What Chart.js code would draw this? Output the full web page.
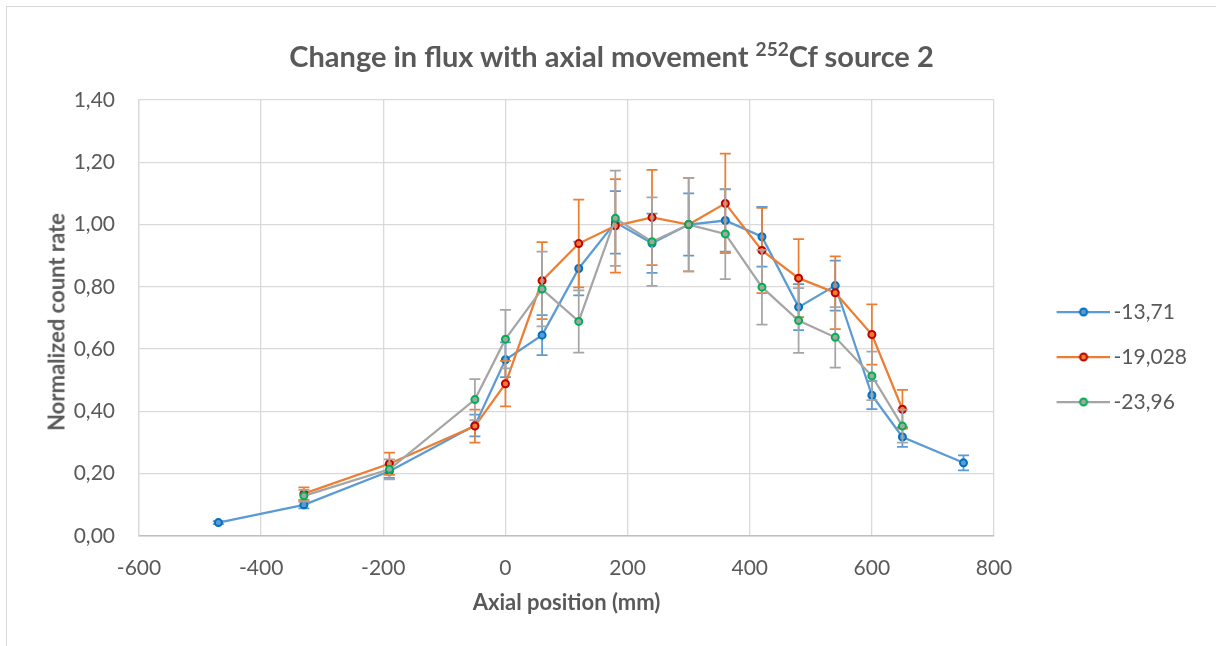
<!DOCTYPE html>
<html>
<head>
<meta charset="utf-8">
<title>Change in flux with axial movement</title>
<script src="https://cdn.jsdelivr.net/npm/chart.js@4.4.1/dist/chart.umd.min.js"></script>
<style>
  html, body { margin: 0; padding: 0; background: #fff; }
  body { width: 1216px; height: 646px; overflow: hidden; position: relative; font-family: Lato, "Open Sans", sans-serif; }
  #frame { position: absolute; left: 6px; top: 6px; width: 1300px; height: 700px; border-left: 1px solid #d9d9d9; border-top: 1px solid #d9d9d9; }
  #title { position: absolute; left: 0; width: 1223px; top: 38px; text-align: center; font: bold 29px Lato, sans-serif; color: #595959; white-space: nowrap; }
  #title sup { font-size: 0.66em; vertical-align: 0.55em; line-height: 0; }
  #ytitle { position: absolute; left: 56px; top: 322px; transform: translate(-50%, -50%) rotate(-90deg); font: bold 22px Lato, sans-serif; color: #595959; white-space: nowrap; }
  #chart { position: absolute; left: 0; top: 0; }
</style>
</head>
<body>
<div id="frame"></div>
<canvas id="chart" width="1216" height="646"></canvas>
<div id="title">Change in flux with axial movement <sup>252</sup>Cf source 2</div>
<div id="ytitle">Normalized count rate</div>
<script>
// positions (mm)
const positionsA = [-470, -330, -190, -50, 0, 60, 120, 180, 240, 300, 360, 420, 480, 540, 600, 650, 750];
const positionsB = [-330, -190, -50, 0, 60, 120, 180, 240, 300, 360, 420, 480, 540, 600, 650];

// series -13,71
const rateA = [0.043, 0.100, 0.208, 0.355, 0.566, 0.645, 0.859, 1.007, 0.940, 1.000, 1.013, 0.961, 0.735, 0.804, 0.452, 0.318, 0.235];
const errA = [0.005, 0.011, 0.021, 0.035, 0.056, 0.064, 0.086, 0.100, 0.095, 0.100, 0.100, 0.096, 0.074, 0.080, 0.045, 0.032, 0.024];
// series -19,028
const rateB = [0.136, 0.232, 0.353, 0.489, 0.820, 0.939, 0.996, 1.023, 1.000, 1.068, 0.917, 0.828, 0.781, 0.647, 0.407];
const errB = [0.020, 0.036, 0.053, 0.073, 0.124, 0.141, 0.150, 0.153, 0.150, 0.160, 0.137, 0.125, 0.117, 0.097, 0.062];
// series -23,96
const rateC = [0.129, 0.214, 0.438, 0.632, 0.793, 0.689, 1.020, 0.945, 1.000, 0.970, 0.799, 0.692, 0.638, 0.514, 0.353];
const errC = [0.019, 0.032, 0.066, 0.094, 0.120, 0.100, 0.153, 0.142, 0.150, 0.145, 0.120, 0.104, 0.097, 0.078, 0.053];

const seriesNames = ["-13,71", "-19,028", "-23,96"];

const xTicks = [-600, -400, -200, 0, 200, 400, 600, 800];
const xTickLabels = ["-600", "-400", "-200", "0", "200", "400", "600", "800"];
const yTicks = [0, 0.2, 0.4, 0.6, 0.8, 1.0, 1.2, 1.4];
const yTickLabels = ["0,00", "0,20", "0,40", "0,60", "0,80", "1,00", "1,20", "1,40"];

const textColor = "#595959";
const gridColor = "#d9d9d9";

function points(xs, ys) {
  return xs.map((x, i) => ({ x: x, y: ys[i] }));
}

// legend icon: line with marker in the middle
function legendIcon(line, fill, ring) {
  const c = document.createElement("canvas");
  c.width = 98;
  c.height = 12;
  const g = c.getContext("2d");
  g.strokeStyle = line;
  g.lineWidth = 2.25;
  g.beginPath();
  g.moveTo(45, 6);
  g.lineTo(98, 6);
  g.stroke();
  g.beginPath();
  g.arc(72, 6, 3.5, 0, Math.PI * 2);
  g.fillStyle = fill;
  g.fill();
  g.lineWidth = 2;
  g.strokeStyle = ring;
  g.stroke();
  return c;
}

function series(label, xs, ys, errs, line, ring, order) {
  return {
    label: label,
    data: points(xs, ys),
    errors: errs,
    borderColor: line,
    backgroundColor: line,
    borderWidth: 2.25,
    pointRadius: 3.5,
    pointBorderWidth: 2,
    pointBackgroundColor: line,
    pointBorderColor: ring,
    tension: 0,
    order: order,
    icon: legendIcon(line, line, ring)
  };
}

// error bars drawn under each series
const errorBars = {
  id: "errorBars",
  beforeDatasetDraw(chart, args) {
    const ds = chart.data.datasets[args.index];
    const yScale = chart.scales.y;
    const ctx = chart.ctx;
    ctx.save();
    ctx.strokeStyle = ds.borderColor;
    ctx.lineWidth = 1.75;
    args.meta.data.forEach((pt, i) => {
      const v = ds.data[i].y;
      const e = ds.errors[i];
      const top = yScale.getPixelForValue(v + e);
      const bot = yScale.getPixelForValue(v - e);
      ctx.beginPath();
      ctx.moveTo(pt.x, top);
      ctx.lineTo(pt.x, bot);
      ctx.moveTo(pt.x - 5.5, top);
      ctx.lineTo(pt.x + 5.5, top);
      ctx.moveTo(pt.x - 5.5, bot);
      ctx.lineTo(pt.x + 5.5, bot);
      ctx.stroke();
    });
    ctx.restore();
  }
};

new Chart(document.getElementById("chart"), {
  type: "line",
  data: {
    datasets: [
      series(seriesNames[0], positionsA, rateA, errA, "#5B9BD5", "#0070C0", 3),
      series(seriesNames[1], positionsB, rateB, errB, "#ED7D31", "#C00000", 2),
      series(seriesNames[2], positionsB, rateC, errC, "#A5A5A5", "#00B050", 1)
    ]
  },
  plugins: [errorBars],
  options: {
    responsive: false,
    animation: false,
    layout: { padding: { top: 100, right: 19, bottom: 32, left: 0 } },
    plugins: {
      title: { display: false },
      tooltip: { enabled: false },
      legend: {
        position: "right",
        labels: {
          usePointStyle: true,
          pointStyleWidth: 85,
          padding: 24,
          color: textColor,
          font: { family: "Lato", size: 21 },
          sort: (a, b) => a.datasetIndex - b.datasetIndex,
          generateLabels(chart) {
            const items = Chart.defaults.plugins.legend.labels.generateLabels(chart);
            items.forEach((it) => {
              it.pointStyle = chart.data.datasets[it.datasetIndex].icon;
            });
            return items;
          }
        }
      }
    },
    scales: {
      x: {
        type: "linear",
        min: -600,
        max: 800,
        afterBuildTicks(scale) {
          scale.ticks = xTicks.map((v) => ({ value: v }));
        },
        afterFit(scale) {
          scale.height = 78;
        },
        grid: { color: gridColor, lineWidth: 1.3, drawTicks: false },
        border: { color: "#bfbfbf", width: 1.5 },
        ticks: {
          padding: 20,
          color: textColor,
          font: { family: "Lato", size: 21 },
          callback: (v, i) => xTickLabels[i]
        },
        title: {
          display: true,
          text: "Axial position (mm)",
          color: textColor,
          font: { family: "Lato", size: 22, weight: "bold", lineHeight: 1 },
          padding: { top: 0, bottom: 0 }
        }
      },
      y: {
        min: 0,
        max: 1.4,
        afterBuildTicks(scale) {
          scale.ticks = yTicks.map((v) => ({ value: v }));
        },
        afterFit(scale) {
          scale.width = 139;
        },
        grid: { color: gridColor, lineWidth: 1.3, drawTicks: false },
        border: { color: gridColor, width: 1.3 },
        ticks: {
          padding: 24,
          color: textColor,
          font: { family: "Lato", size: 21 },
          callback: (v, i) => yTickLabels[i]
        }
      }
    }
  }
});
</script>
</body>
</html>
